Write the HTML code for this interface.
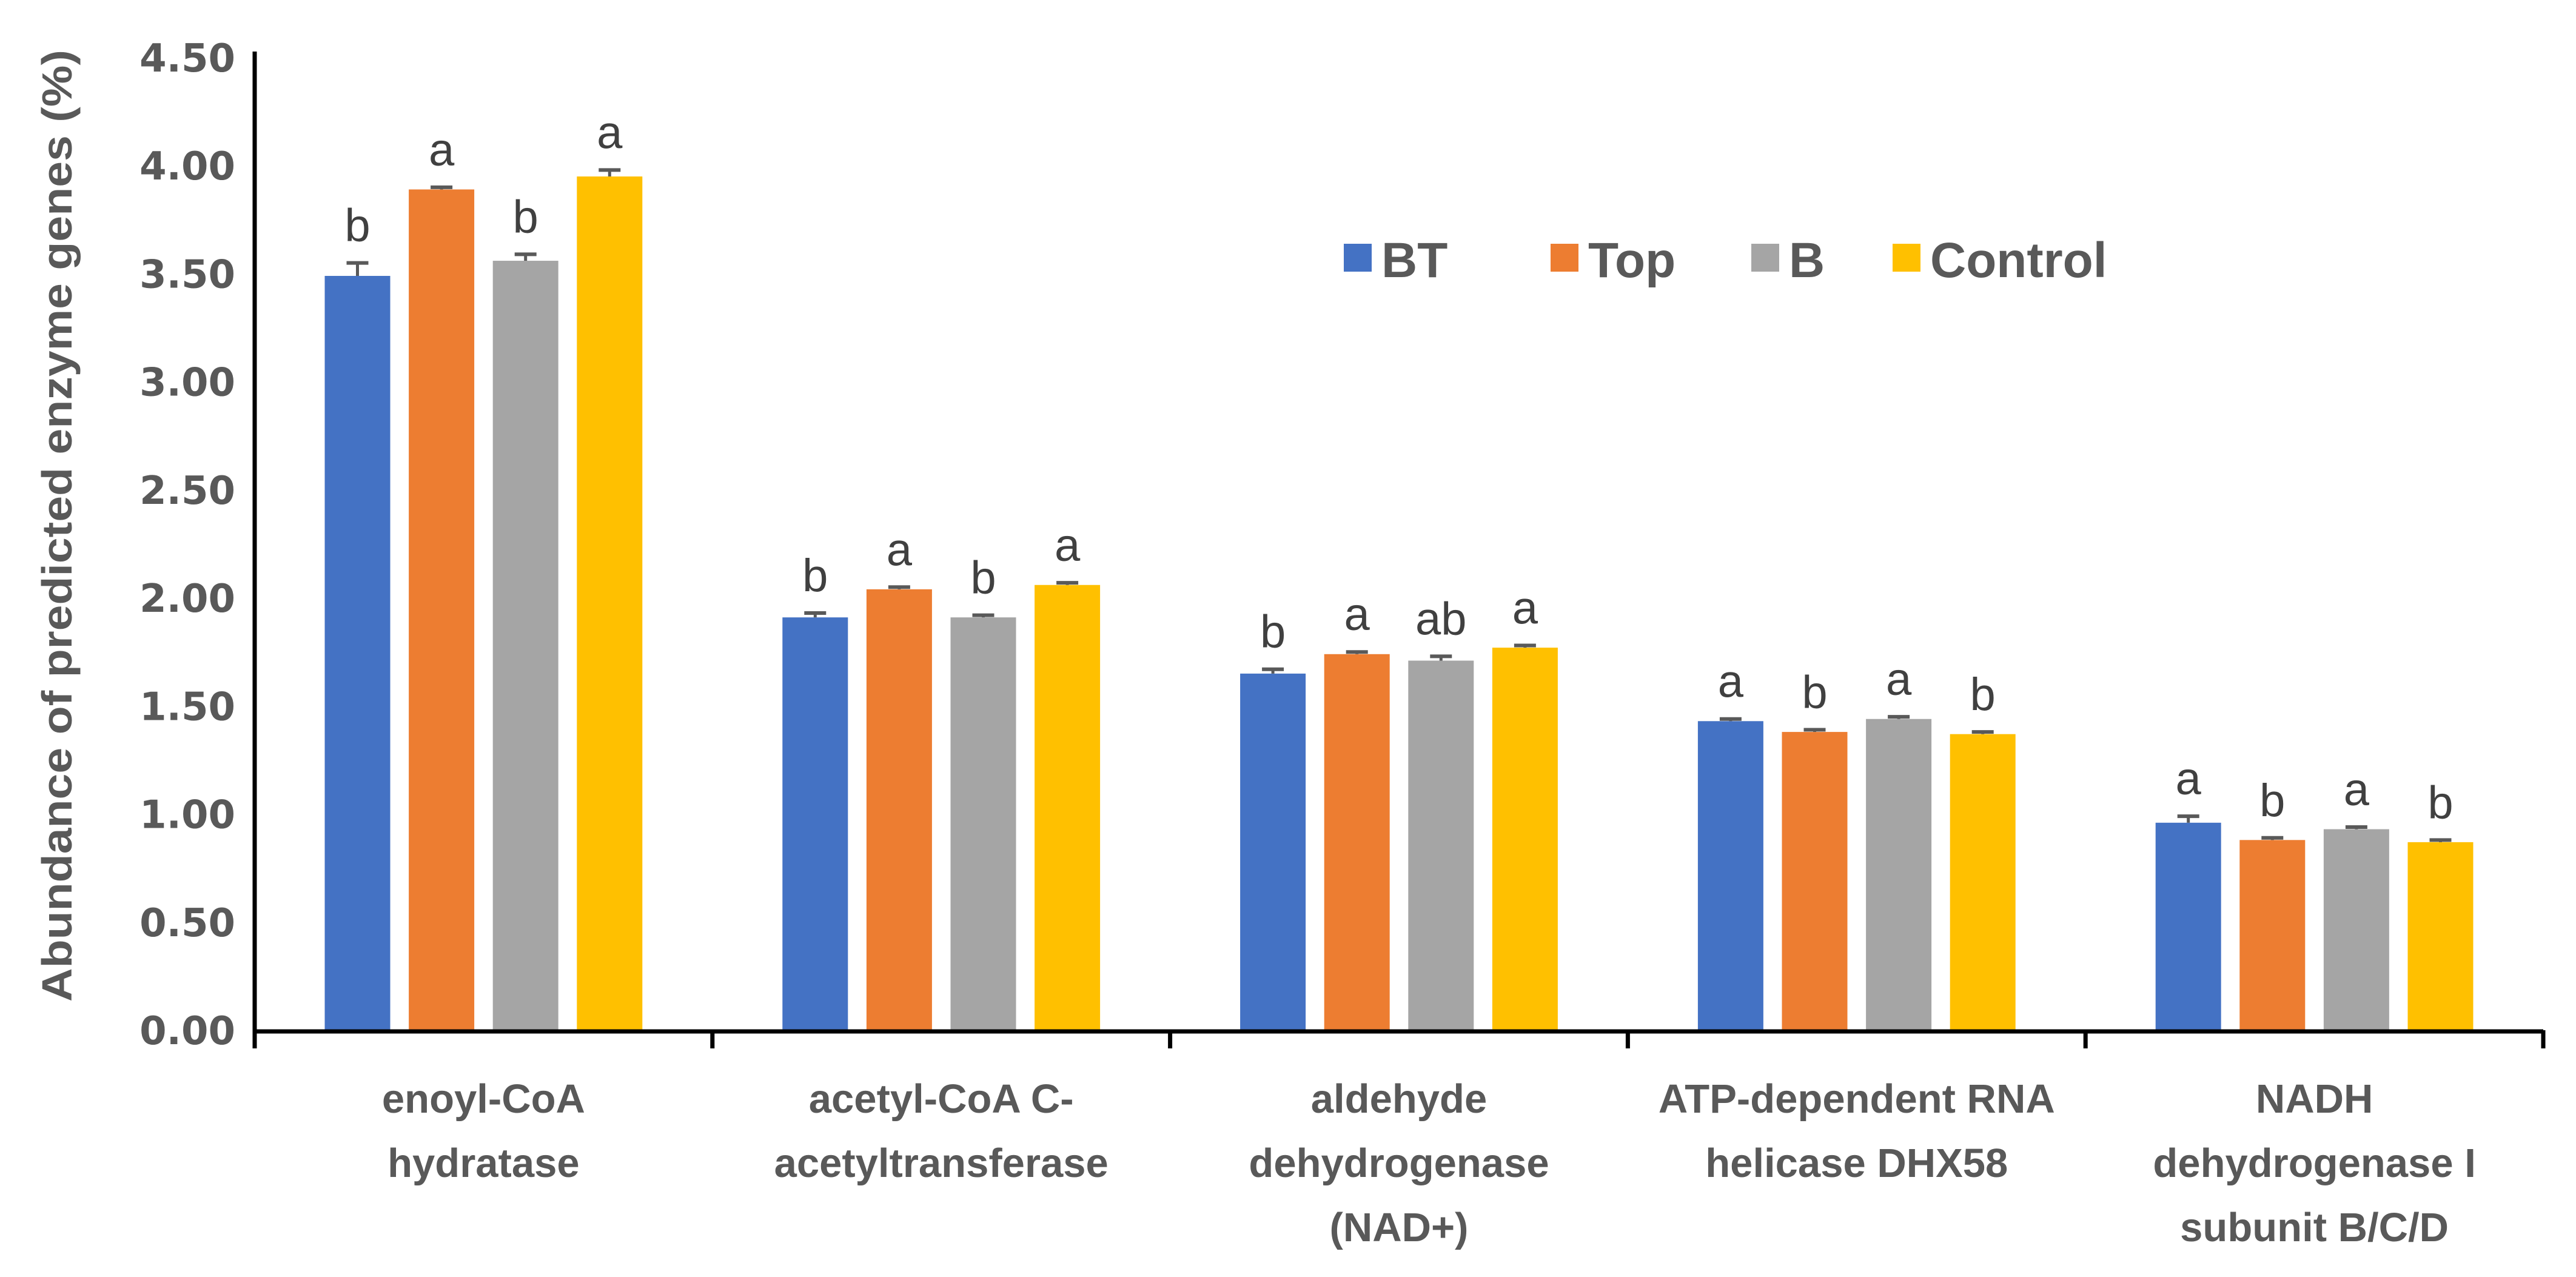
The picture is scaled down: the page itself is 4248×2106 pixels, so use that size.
<!DOCTYPE html>
<html><head><meta charset="utf-8"><style>body{margin:0;background:#fff}svg{display:block}</style></head>
<body>
<svg id="chart" width="4248" height="2106" xmlns="http://www.w3.org/2000/svg"></svg>
<script>
const categories=[["enoyl-CoA","hydratase"],["acetyl-CoA C-","acetyltransferase"],["aldehyde","dehydrogenase","(NAD+)"],["ATP-dependent RNA","helicase DHX58"],["NADH","dehydrogenase I","subunit B/C/D"]];
const seriesNames=["BT","Top","B","Control"];
const btValues=[3.49,1.91,1.65,1.43,0.96];
const topValues=[3.89,2.04,1.74,1.38,0.88];
const bValues=[3.56,1.91,1.71,1.44,0.93];
const controlValues=[3.95,2.06,1.77,1.37,0.87];
const btErr=[0.06,0.02,0.02,0.01,0.03];
const topErr=[0.01,0.01,0.01,0.01,0.01];
const bErr=[0.03,0.01,0.02,0.01,0.01];
const controlErr=[0.03,0.01,0.01,0.01,0.01];
const btLetters=["b","b","b","a","a"];
const topLetters=["a","a","a","b","b"];
const bLetters=["b","b","ab","a","a"];
const controlLetters=["a","a","a","b","b"];
const yTicks=[0,0.5,1,1.5,2,2.5,3,3.5,4,4.5];
const colors=["#4472C4","#ED7D31","#A5A5A5","#FFC000"];
const vals=[btValues,topValues,bValues,controlValues];
const errs=[btErr,topErr,bErr,controlErr];
const lets=[btLetters,topLetters,bLetters,controlLetters];
const svg=document.getElementById('chart');
const NS="http://www.w3.org/2000/svg";
const X0=420,X1=4194,Y0=1699,Y1=95,YMAX=4.5;
const y=v=>Y0-(v/YMAX)*(Y0-Y1);
const gw=(X1-X0)/categories.length;
const bw=108,step=138.6;
const bx=(g,s)=>X0+gw*g+gw/2+(s-1.5)*step-bw/2;
function el(t,a,txt){const e=document.createElementNS(NS,t);for(const k in a)e.setAttribute(k,a[k]);if(txt!==undefined)e.textContent=txt;svg.appendChild(e);return e;}
yTicks.forEach(t=>{const e=el('text',{x:388,y:y(t)+23,'text-anchor':'end','font-family':'DejaVu Sans, sans-serif','font-weight':'bold','font-size':64,fill:'#595959'},t.toFixed(2));

});
const yt=el('text',{transform:'translate(118,'+((Y0+95)/2-30)+') rotate(-90)','text-anchor':'middle','font-family':'Liberation Sans Narrow, Liberation Sans, sans-serif','font-weight':'bold','font-size':70,fill:'#595959',textLength:1570,lengthAdjust:'spacingAndGlyphs'},'Abundance of predicted enzyme genes (%)');


for(let s=0;s<4;s++){for(let g=0;g<categories.length;g++){
const v=vals[s][g],e=errs[s][g],x=bx(g,s);
const r=el('rect',{x:x,y:y(v),width:bw,height:Y0-y(v),fill:colors[s]});


const cx=x+bw/2;
el('line',{x1:cx,x2:cx,y1:y(v),y2:y(v+e),stroke:'#595959','stroke-width':5});
const cap=el('line',{x1:cx-18,x2:cx+18,y1:y(v+e),y2:y(v+e),stroke:'#595959','stroke-width':6});


const lt=el('text',{x:cx,y:y(v+e)-36,'text-anchor':'middle','font-family':'Liberation Sans, sans-serif','font-size':76,fill:'#404040'},lets[s][g]);


}}
const ax=el('line',{x1:X0,x2:X1,y1:Y0+2,y2:Y0+2,stroke:'#000','stroke-width':7});


const yax=el('line',{x1:X0,x2:X0,y1:Y1-10,y2:Y0+30,stroke:'#000','stroke-width':7});


for(let g=0;g<=categories.length;g++){el('line',{x1:X0+gw*g,x2:X0+gw*g,y1:Y0,y2:Y0+30,stroke:'#000','stroke-width':7});}
categories.forEach((c,g)=>{c.forEach((ln,i)=>{const t=el('text',{x:X0+gw*g+gw/2,y:1835+i*106,'text-anchor':'middle','font-family':'Liberation Sans, sans-serif','font-weight':'bold','font-size':67,fill:'#595959'},ln);

});});
const lx=[2216,2557,2888,3121];
seriesNames.forEach((n,i)=>{const r=el('rect',{x:lx[i],y:402,width:46,height:46,fill:colors[i]});


const t=el('text',{x:lx[i]+62,y:457,'font-family':'Liberation Sans, sans-serif','font-weight':'bold','font-size':82,fill:'#595959'},n);

});
</script>
</body></html>
